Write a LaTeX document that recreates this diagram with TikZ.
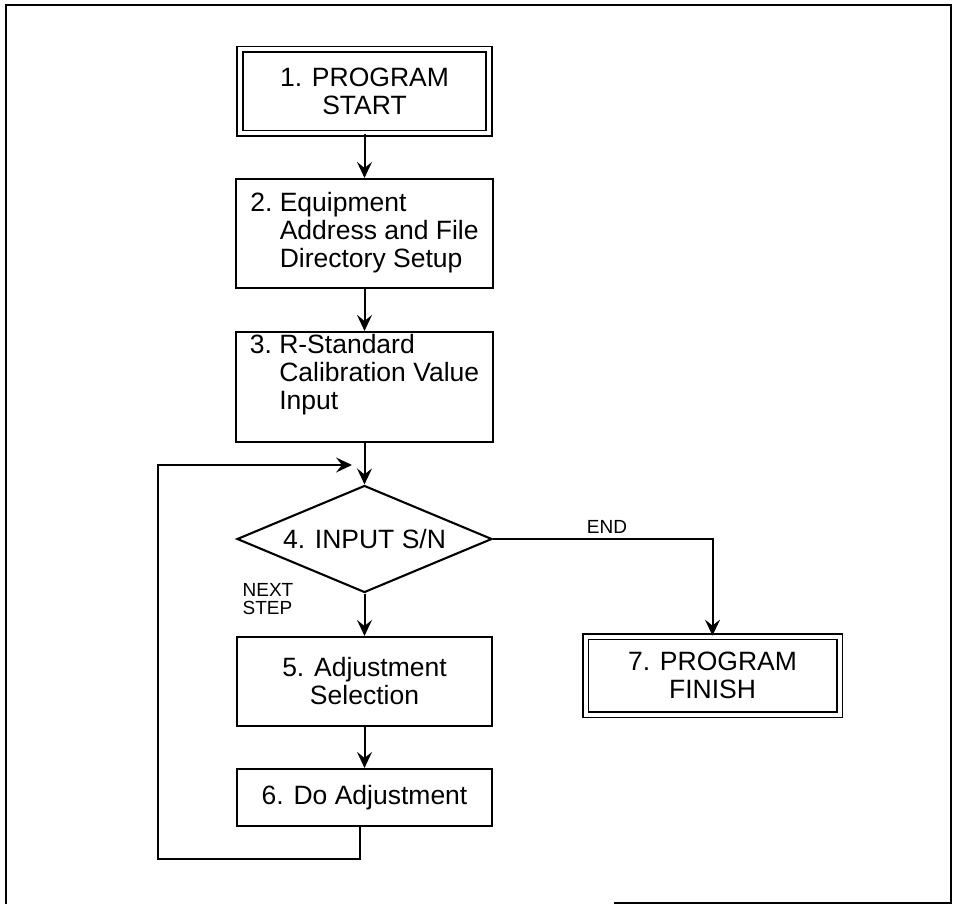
\documentclass[tikz,border=0pt]{standalone}
\usepackage{fontspec}
\setmainfont{Liberation Sans}
\usetikzlibrary{shapes.geometric,arrows.meta}
\begin{document}
\begin{tikzpicture}[x=1pt,y=-1pt,
  txt/.style={font=\fontsize{26.5}{28}\selectfont},
  box/.style={txt,draw,line width=2.1pt,inner sep=0pt},
  dbox/.style={box,double,double distance=4pt,line width=1.7pt},
  diam/.style={txt,draw,diamond,aspect=2.38,minimum width=255pt,minimum height=107pt,inner sep=0pt,line width=2.1pt},
  lbl/.style={font=\fontsize{19}{18}\selectfont,inner sep=0pt},
  arr/.style={line width=2pt,-{Stealth[length=16pt,width=15pt,inset=6pt]}},
  frame/.style={line width=2.6pt}
]
\useasboundingbox (0,0) rectangle (953,904);
\draw[frame] (6,904) -- (6,5) -- (951,5) -- (951,904);
\draw[frame] (614,903) -- (951,903);

\node[dbox,align=center,minimum width=249pt,minimum height=84pt] (b1) at (364.5,91.5) {1. PROGRAM\\START};
\node[box,minimum width=257pt,minimum height=109pt] (b2) at (364.5,233.5)
  {\begin{tabular}{@{}l@{\ }l@{}}2.&Equipment\\&Address and File\\&Directory Setup\end{tabular}};
\node[box,minimum width=257pt,minimum height=110pt] (b3) at (364.5,387)
  {\begin{tabular}{@{}l@{\ }l@{}}3.&R-Standard\\&Calibration Value\\&Input\rule[-30pt]{0pt}{30pt}\end{tabular}};
\node[diam] (d) at (364.5,539) {4. INPUT S/N};
\node[box,align=center,minimum width=255pt,minimum height=89pt] (b5) at (364.5,681.5) {5. Adjustment\\Selection};
\node[box,minimum width=255pt,minimum height=57pt] (b6) at (364.5,797.5) {6. Do Adjustment};
\node[dbox,align=center,minimum width=254pt,minimum height=78pt] (b7) at (712.5,675.5) {7. PROGRAM\\FINISH};

\node[lbl,align=left] (nxt) at (268,599) {NEXT\\STEP};
\node[lbl] (endlbl) at (607,527) {END};

\draw[arr] (b1.south) -- (b2.north);
\draw[arr] (b2.south) -- (b3.north);
\draw[arr] (b3.south) -- (d.north);
\draw[arr] (d.south) -- (b5.north);
\draw[arr] (b5.south) -- (b6.north);
\draw[arr] (d.east) -| (b7.north);

\coordinate (c1) at (158,859);
\coordinate (lin) at (352,465);
\draw[arr] ([xshift=-4.5pt]b6.south) |- (c1) |- (lin);
\end{tikzpicture}
\end{document}
